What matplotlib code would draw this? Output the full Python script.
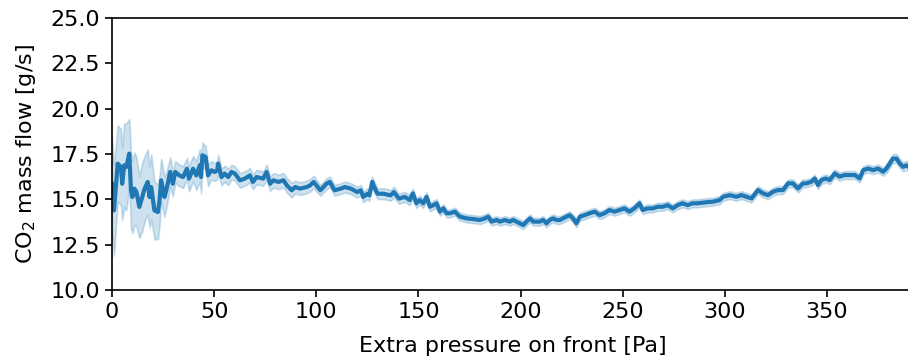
import matplotlib
matplotlib.use("Agg")
import matplotlib.pyplot as plt
import numpy as np

# Extra pressure on front [Pa]
pressure = [
    0.0, 1.0, 2.8, 4.4, 5.0, 6.0, 7.0, 8.5, 9.3, 10.0, 11.0, 12.0, 13.4, 14.8,
    16.0, 17.5, 18.4, 19.2, 20.8, 22.5, 23.3, 24.1, 25.7, 26.6, 28.5, 29.8,
    31.0, 33.0, 34.8, 36.7, 37.7, 39.7, 41.3, 43.0, 43.6, 44.3, 45.9, 47.0,
    48.7, 50.3, 51.5, 52.0, 53.6, 55.2, 56.9, 58.5, 60.2, 62.6, 65.0, 67.5,
    69.0, 70.8, 74.0, 75.7, 77.4, 79.0, 81.5, 84.0, 85.6, 88.0, 89.7, 92.0,
    95.4, 97.0, 98.7, 102.0, 105.0, 106.6, 109.0, 112.0, 114.0, 117.0, 120.0,
    121.8, 123.0, 125.0, 126.0, 127.4, 128.0, 130.0, 133.0, 136.4, 138.0,
    140.5, 143.3, 145.7, 147.3, 149.0, 150.6, 152.3, 154.0, 155.6, 157.3,
    158.9, 160.5, 162.2, 163.8, 165.4, 167.9, 169.5, 170.4, 173.6, 176.9,
    180.1, 182.6, 184.2, 185.8, 188.3, 189.9, 192.3, 194.7, 196.4, 198.0,
    199.7, 201.3, 202.9, 204.6, 206.2, 207.8, 209.4, 211.0, 212.7, 214.3,
    216.0, 217.6, 219.2, 220.8, 222.5, 224.0, 225.7, 227.3, 229.0, 231.4,
    233.8, 236.3, 238.7, 241.1, 243.5, 246.0, 248.4, 250.9, 253.3, 255.7,
    258.2, 259.8, 262.2, 264.7, 267.1, 269.6, 272.0, 274.5, 276.9, 279.3,
    281.8, 284.2, 286.6, 291.0, 294.2, 297.5, 299.1, 302.4, 305.6, 308.1,
    310.5, 313.0, 316.2, 318.7, 321.1, 323.6, 326.0, 328.5, 330.9, 333.3,
    335.8, 338.2, 339.9, 342.3, 344.0, 345.6, 347.2, 349.4, 351.3, 353.8,
    356.2, 358.7, 361.1, 363.6, 366.0, 367.7, 370.1, 372.6, 375.0, 377.5,
    379.1, 380.7, 382.3, 384.0, 385.6, 387.3, 388.9, 391.0,
]

# Mean CO2 mass flow [g/s]
mass_flow = [
    15.86, 14.39, 16.97, 16.78, 15.86, 16.88, 16.78, 17.52, 15.50, 15.13,
    15.59, 15.40, 14.58, 15.13, 15.59, 15.96, 15.13, 15.68, 14.39, 14.30,
    14.94, 16.05, 15.13, 15.50, 16.51, 15.86, 16.51, 16.32, 16.23, 16.69,
    16.14, 16.69, 16.32, 16.88, 16.23, 17.43, 17.33, 16.32, 16.60, 16.51,
    16.60, 16.97, 16.23, 16.42, 16.23, 16.51, 16.42, 16.05, 16.14, 16.32,
    15.96, 16.23, 16.14, 16.51, 15.86, 16.05, 15.96, 16.05, 15.77, 15.50,
    15.68, 15.59, 15.68, 15.77, 15.96, 15.50, 15.86, 15.96, 15.50, 15.59,
    15.68, 15.59, 15.40, 15.50, 15.13, 15.31, 15.22, 15.96, 15.77, 15.31,
    15.31, 15.22, 15.40, 15.04, 15.14, 14.96, 15.33, 14.78, 14.96, 14.78,
    15.14, 14.59, 14.68, 14.78, 14.32, 14.50, 14.23, 14.23, 14.32, 14.13,
    14.04, 13.95, 13.91, 13.86, 13.95, 14.04, 13.77, 13.86, 13.77, 13.86,
    13.77, 13.86, 13.77, 13.68, 13.58, 13.77, 13.95, 13.77, 13.77, 13.77,
    13.86, 13.68, 13.86, 13.95, 13.86, 13.86, 13.95, 14.04, 14.13, 13.95,
    13.68, 14.04, 14.13, 14.23, 14.32, 14.13, 14.23, 14.41, 14.32, 14.41,
    14.50, 14.32, 14.50, 14.78, 14.41, 14.50, 14.50, 14.59, 14.59, 14.68,
    14.50, 14.68, 14.78, 14.68, 14.78, 14.78, 14.84, 14.87, 14.96, 15.14,
    15.23, 15.14, 15.23, 15.14, 15.05, 15.51, 15.33, 15.23, 15.42, 15.51,
    15.51, 15.88, 15.88, 15.60, 15.88, 15.88, 15.97, 16.15, 15.79, 16.06,
    16.15, 16.06, 16.43, 16.25, 16.34, 16.34, 16.34, 16.15, 16.61, 16.70,
    16.61, 16.70, 16.52, 16.70, 16.98, 17.25, 17.25, 16.98, 16.79, 16.88,
    16.70,
]

# Half-width of the confidence band [g/s]
spread = [
    2.6, 2.5, 2.1, 2.1, 2.0, 2.3, 2.4, 1.9, 2.1, 2.0,
    2.0, 1.9, 1.7, 1.9, 1.8, 1.8, 1.7, 1.8, 1.6, 1.5,
    1.4, 1.2, 1.1, 1.0, 0.8, 0.7, 0.6, 0.6, 0.6, 0.6,
    0.7, 0.7, 0.8, 0.9, 0.9, 0.7, 0.6, 0.6, 0.5, 0.5,
    0.5, 0.5, 0.45, 0.45, 0.45, 0.4, 0.4, 0.4, 0.4, 0.4,
    0.4, 0.4, 0.4, 0.4, 0.4, 0.4, 0.4, 0.4, 0.4, 0.4,
    0.35, 0.35, 0.35, 0.35, 0.35, 0.3, 0.3, 0.3, 0.3, 0.3,
    0.3, 0.3, 0.3, 0.3, 0.3, 0.3, 0.3, 0.3, 0.3, 0.3,
    0.3, 0.3, 0.3, 0.28, 0.28, 0.28, 0.27, 0.26, 0.25, 0.25,
    0.25, 0.24, 0.24, 0.24, 0.23, 0.23, 0.23, 0.22, 0.22, 0.22,
    0.22, 0.22, 0.22, 0.22, 0.22, 0.22, 0.22, 0.22, 0.22, 0.22,
    0.22, 0.22, 0.22, 0.22, 0.22, 0.22, 0.22, 0.22, 0.22, 0.22,
    0.22, 0.22, 0.22, 0.22, 0.22, 0.22, 0.22, 0.22, 0.22, 0.22,
    0.22, 0.22, 0.22, 0.22, 0.22, 0.22, 0.22, 0.22, 0.22, 0.22,
    0.22, 0.22, 0.22, 0.22, 0.22, 0.22, 0.22, 0.22, 0.22, 0.22,
    0.22, 0.22, 0.22, 0.22, 0.22, 0.22, 0.22, 0.22, 0.22, 0.22,
    0.22, 0.22, 0.22, 0.22, 0.22, 0.22, 0.22, 0.22, 0.22, 0.22,
    0.22, 0.22, 0.22, 0.22, 0.22, 0.22, 0.22, 0.22, 0.22, 0.22,
    0.22, 0.22, 0.22, 0.22, 0.22, 0.22, 0.22, 0.22, 0.22, 0.22,
    0.22, 0.22, 0.22, 0.25, 0.25, 0.25, 0.25, 0.25, 0.25, 0.25,
    0.25,
]

x_ticks = [0, 50, 100, 150, 200, 250, 300, 350]
y_ticks = [10.0, 12.5, 15.0, 17.5, 20.0, 22.5, 25.0]

x = np.array(pressure)
y = np.array(mass_flow)
hw = np.array(spread)

color = "#1f77b4"
fig = plt.figure(figsize=(9.08, 3.6), dpi=100)
ax = fig.add_axes([0.1233, 0.1944, 0.882, 0.7556])

ax.fill_between(x, y - hw, y + hw, color=color, alpha=0.22,
                linewidth=1.2, edgecolor=color)
ax.plot(x, y, color=color, linewidth=3.0)

ax.set_xlim(0, 392)
ax.set_ylim(10, 25)
ax.set_xticks(x_ticks)
ax.set_yticks(y_ticks)
ax.set_yticklabels([f"{v:.1f}" for v in y_ticks])
ax.tick_params(labelsize=16, length=5, width=1.2)
for s in ax.spines.values():
    s.set_linewidth(1.2)
ax.spines["right"].set_visible(False)

ax.set_xlabel("Extra pressure on front [Pa]", fontsize=16, labelpad=10)
ax.set_ylabel("CO$_2$ mass flow [g/s]", fontsize=16, labelpad=9)

fig.savefig("out.png", dpi=100)
